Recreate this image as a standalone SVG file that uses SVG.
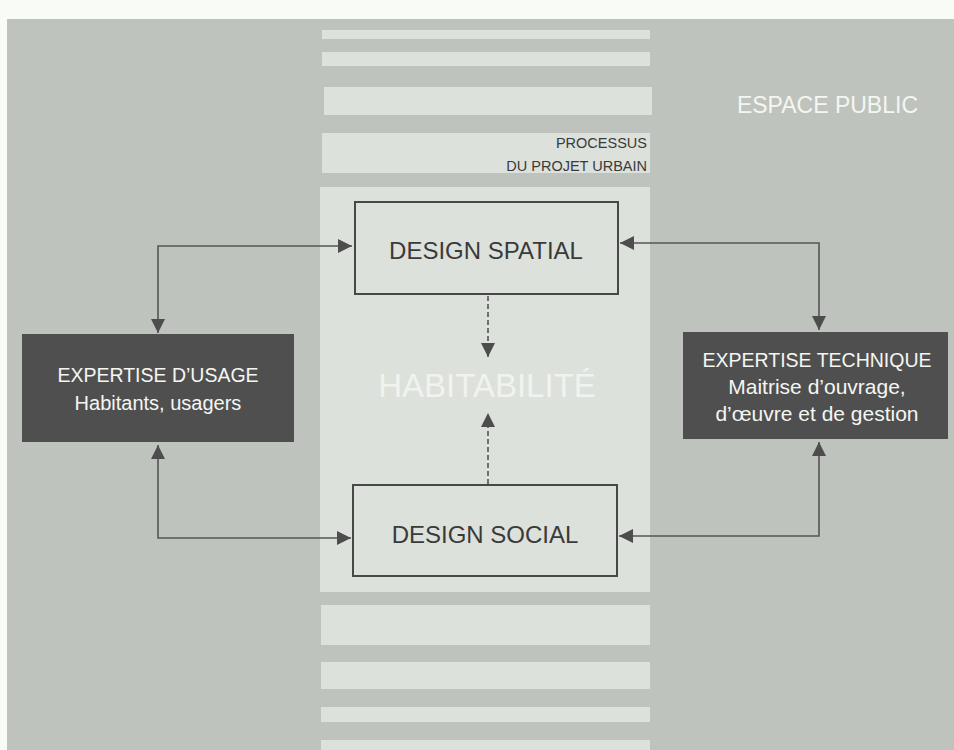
<svg xmlns="http://www.w3.org/2000/svg" width="954" height="750" viewBox="0 0 954 750">
<defs>
<style>
.bg{fill:#bfc3bd}
.strip{fill:#dde1dc}
.box{fill:#dde1dc;stroke:#484848;stroke-width:2}
.dark{fill:#4f4f4f}
.t{font-family:"Liberation Sans",Arial,sans-serif}
.dk{fill:#3a3a3a}
.wh{fill:#f4f6f2}
.conn{fill:none;stroke:#555;stroke-width:1.6}
.dash{stroke-dasharray:5 3}
</style>
<marker id="ah" viewBox="0 0 10 10" refX="10" refY="5" markerWidth="15" markerHeight="14" orient="auto-start-reverse" markerUnits="userSpaceOnUse">
<path d="M0,0 L10,5 L0,10 z" fill="#4d4d4d"/>
</marker>
</defs>
<rect width="954" height="750" fill="#f8fbf6"/>
<rect class="bg" x="7" y="19" width="947" height="731"/>
<g id="process-strips">
<rect class="strip" x="322" y="30" width="328" height="9"/>
<rect class="strip" x="322" y="52" width="328" height="14"/>
<rect class="strip" x="324" y="87" width="328" height="28"/>
<rect class="strip" x="322" y="133" width="328" height="40"/>
<rect class="strip" x="320" y="187" width="330" height="405"/>
<rect class="strip" x="321" y="605" width="329" height="40"/>
<rect class="strip" x="321" y="662" width="329" height="27"/>
<rect class="strip" x="321" y="707" width="329" height="15"/>
<rect class="strip" x="321" y="740" width="329" height="10"/>
</g>
<g id="espace-public">
<text class="t wh" x="918" y="113" font-size="23" text-anchor="end">ESPACE PUBLIC</text>
</g>
<g id="processus">
<text class="t dk" x="647" y="148" font-size="14.5" text-anchor="end">PROCESSUS</text>
<text class="t dk" x="647" y="171" font-size="14.5" text-anchor="end">DU PROJET URBAIN</text>
</g>
<g id="habitabilite">
<text class="t" x="487" y="397" font-size="33" text-anchor="middle" fill="#f1f3ef">HABITABILITÉ</text>
</g>
<g id="design-spatial">
<rect class="box" x="355" y="202" width="263" height="92"/>
<text class="t dk" x="486" y="259" font-size="24" text-anchor="middle">DESIGN SPATIAL</text>
</g>
<g id="design-social">
<rect class="box" x="353" y="485" width="264" height="91"/>
<text class="t dk" x="485" y="543" font-size="24" text-anchor="middle">DESIGN SOCIAL</text>
</g>
<g id="expertise-usage">
<rect class="dark" x="22" y="334" width="272" height="108"/>
<text class="t wh" x="158" y="382" font-size="19.5" text-anchor="middle">EXPERTISE D’USAGE</text>
<text class="t wh" x="158" y="410" font-size="20" text-anchor="middle">Habitants, usagers</text>
</g>
<g id="expertise-technique">
<rect class="dark" x="683" y="332" width="265" height="107"/>
<text class="t wh" x="817" y="367" font-size="19.5" text-anchor="middle">EXPERTISE TECHNIQUE</text>
<text class="t wh" x="817" y="394" font-size="21" text-anchor="middle">Maitrise d’ouvrage,</text>
<text class="t wh" x="817" y="421" font-size="21" text-anchor="middle">d’œuvre et de gestion</text>
</g>
<g id="connectors">
<path class="conn" d="M158 333 L158 246 L352 246" marker-start="url(#ah)" marker-end="url(#ah)"/>
<path class="conn" d="M620 243 L819 243 L819 330" marker-start="url(#ah)" marker-end="url(#ah)"/>
<path class="conn" d="M158 445 L158 538 L351 538" marker-start="url(#ah)" marker-end="url(#ah)"/>
<path class="conn" d="M819 442 L819 536 L619 536" marker-start="url(#ah)" marker-end="url(#ah)"/>
<path class="conn dash" d="M488 296 L488 357" marker-end="url(#ah)"/>
<path class="conn dash" d="M488 484 L488 413" marker-end="url(#ah)"/>
</g>
</svg>
